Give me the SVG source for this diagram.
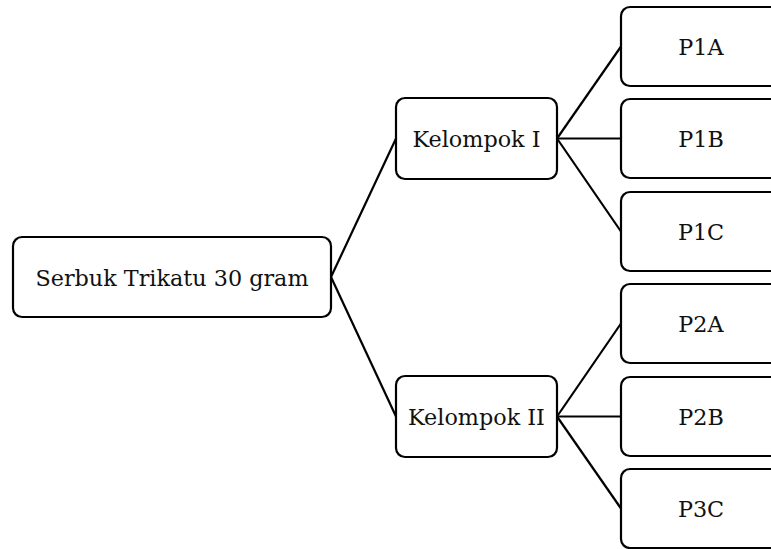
<svg xmlns="http://www.w3.org/2000/svg" width="771" height="549" viewBox="0 0 771 549">
<style>
.box{fill:#fff;stroke:#000;stroke-width:2.2}
.lbl{font-family:"DejaVu Serif","Liberation Serif",serif;font-size:22.3px;fill:#111;text-anchor:middle}
.con{stroke:#000;stroke-width:2.2;fill:none}
</style>
<rect width="771" height="549" fill="#fff"/>
<g id="connectors">
<line class="con" x1="331" y1="277" x2="396" y2="138.5"/>
<line class="con" x1="331" y1="277" x2="396" y2="416.5"/>
<line class="con" x1="557" y1="138.5" x2="621" y2="46.5"/>
<line class="con" x1="557" y1="138.5" x2="621" y2="138.5"/>
<line class="con" x1="557" y1="138.5" x2="621" y2="231.5"/>
<line class="con" x1="557" y1="416.5" x2="621" y2="323.5"/>
<line class="con" x1="557" y1="416.5" x2="621" y2="416.5"/>
<line class="con" x1="557" y1="416.5" x2="621" y2="508.5"/>
</g>
<g id="root"><rect class="box" x="13" y="237" width="318" height="80" rx="9"/><text class="lbl" x="172" y="286">Serbuk Trikatu 30 gram</text></g>
<g id="k1"><rect class="box" x="396" y="98" width="161" height="81" rx="9"/><text class="lbl" x="476.5" y="147">Kelompok I</text></g>
<g id="k2"><rect class="box" x="396" y="376" width="161" height="81" rx="9"/><text class="lbl" x="476.5" y="425">Kelompok II</text></g>
<g id="p1a"><rect class="box" x="621" y="7" width="165" height="79" rx="9"/><text class="lbl" x="701" y="55">P1A</text></g>
<g id="p1b"><rect class="box" x="621" y="99" width="165" height="79" rx="9"/><text class="lbl" x="701" y="147">P1B</text></g>
<g id="p1c"><rect class="box" x="621" y="192" width="165" height="79" rx="9"/><text class="lbl" x="701" y="240">P1C</text></g>
<g id="p2a"><rect class="box" x="621" y="284" width="165" height="79" rx="9"/><text class="lbl" x="701" y="332">P2A</text></g>
<g id="p2b"><rect class="box" x="621" y="377" width="165" height="79" rx="9"/><text class="lbl" x="701" y="425">P2B</text></g>
<g id="p3c"><rect class="box" x="621" y="469" width="165" height="79" rx="9"/><text class="lbl" x="701" y="517">P3C</text></g>
</svg>
